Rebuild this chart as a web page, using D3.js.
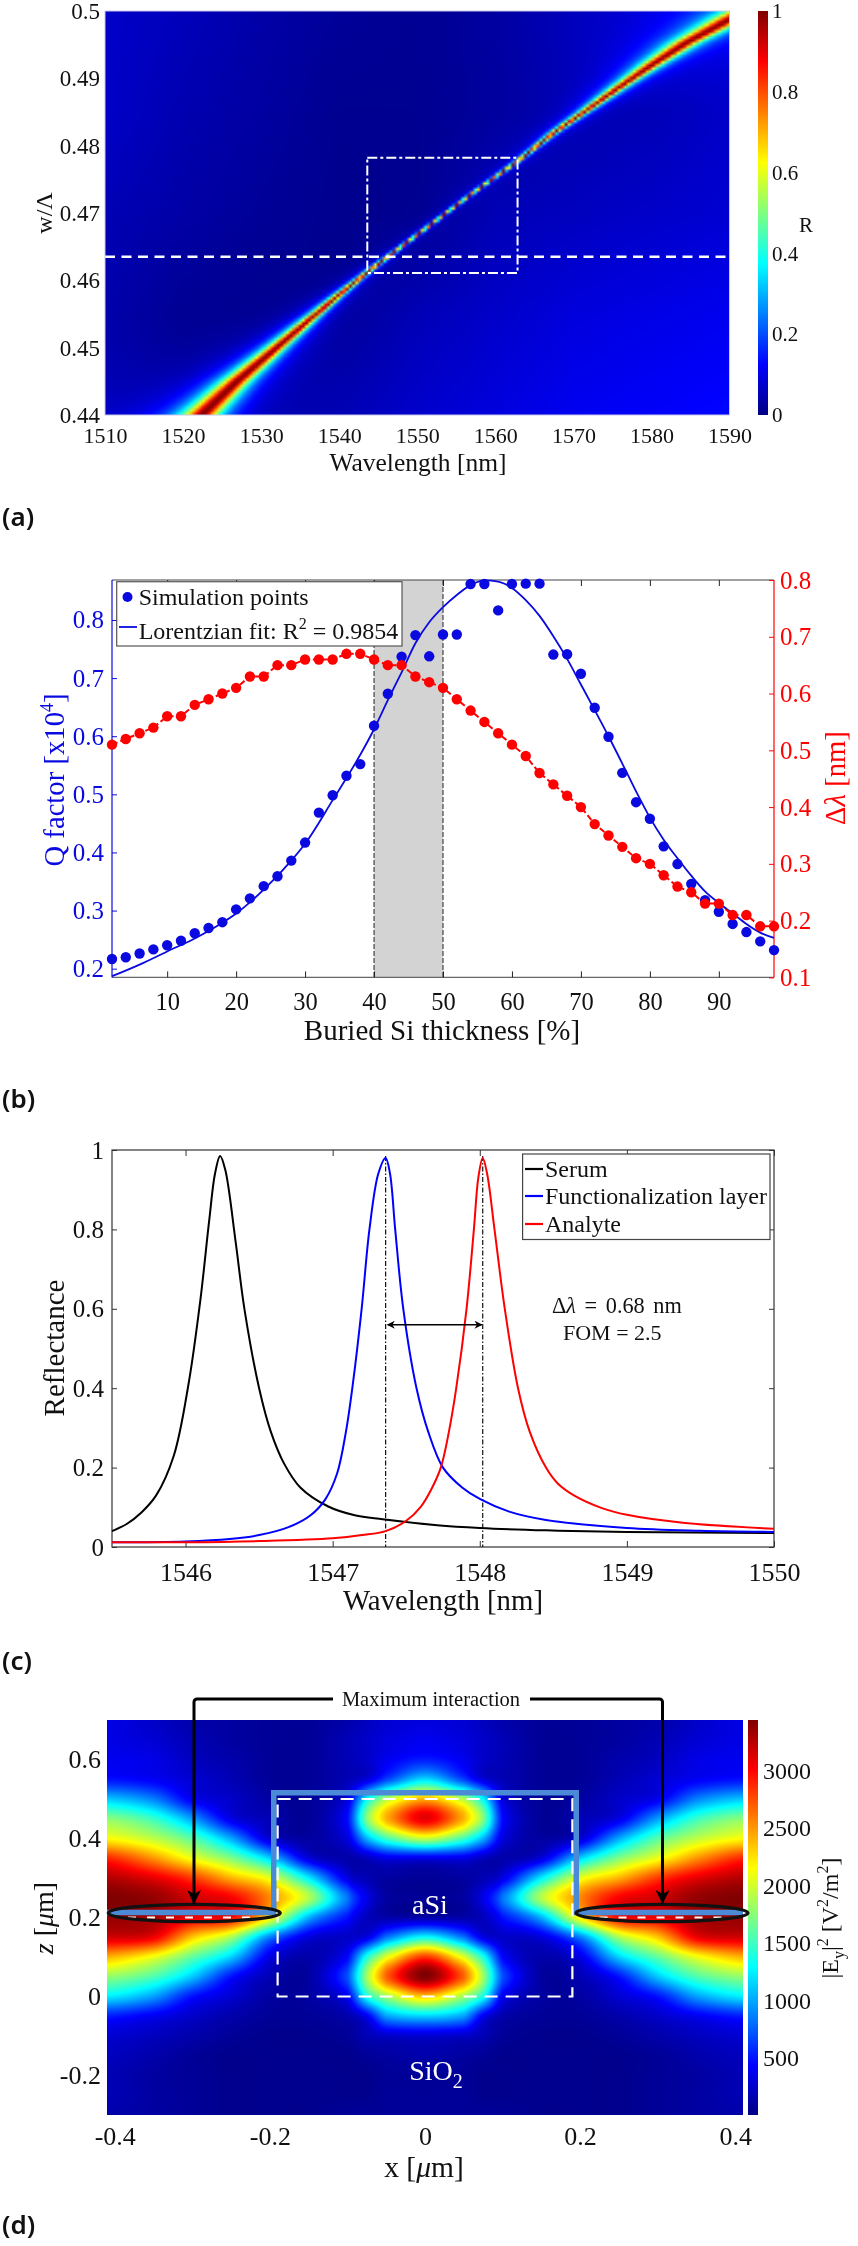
<!DOCTYPE html>
<html><head><meta charset="utf-8">
<script src="https://cdn.jsdelivr.net/npm/d3@7/dist/d3.min.js"></script>
<style>
html,body{margin:0;padding:0;background:#fff}
#root{position:relative;width:858px;height:2246px;overflow:hidden}
canvas{position:absolute;display:block;z-index:1}
svg{position:absolute;left:0;top:0;z-index:2}
svg text{font-family:"Liberation Serif",serif;fill:#111}
svg text.pl{font-family:"Noto Sans",sans-serif;font-weight:600;font-size:26px}
</style></head><body><div id="root"></div>
<script>
// ---------- Panel (a): reflectance map ----------
const aRidgeW = [0.44,0.44495,0.44916,0.45337,0.45757,0.46153,0.46376,0.4697,0.47342,0.47762,0.48188,0.4853,0.48879,0.49213,0.49532,0.49881,0.5];
const aRidgeL = [1522.39,1526.87,1531.14,1535.4,1539.68,1543.95,1546.51,1553.34,1557.62,1562.74,1567.4,1571.7,1575.98,1580.2,1584.5,1590.07,1592.2];
const aWidthW = [0.44,0.445,0.45,0.455,0.46,0.465,0.47,0.475,0.48,0.485,0.49,0.495,0.5];
const aWidthHW = [1.95,1.5,1.05,0.66,0.36,0.2,0.17,0.19,0.3,0.5,0.85,1.35,1.85];
const aBgL = [1510,1520,1530,1540,1550,1560,1570,1580,1590];
const aBgW = [0.5,0.485,0.47,0.455,0.44];
const aBg = [
 [.07,.055,.035,.02,.012,.025,.05,.07,.09],
 [.07,.045,.03,.012,.012,.025,.04,.05,.07],
 [.05,.035,.02,.01,.012,.05,.06,.07,.08],
 [.04,.015,.008,.01,.05,.07,.09,.10,.11],
 [.04,.015,.012,.04,.07,.09,.11,.12,.13]];
const aXTicks=[1510,1520,1530,1540,1550,1560,1570,1580,1590];
const aYTicks=[0.44,0.45,0.46,0.47,0.48,0.49,0.5];
const aCbTicks=[0,0.2,0.4,0.6,0.8,1];
const aDashedW=0.4635;
const aBox={l0:1543.6,l1:1562.85,w0:0.4611,w1:0.4782};

// ---------- Panel (b): Q factor and shift ----------
const bX=[2,4,6,8,10,12,14,16,18,20,22,24,26,28,30,32,34,36,38,40,42,44,46,48,50,52,54,56,58,60,62,64,66,68,70,72,74,76,78,80,82,84,86,88,90,92,94,96,98];
const bQ=[.2166,.2196,.2261,.2332,.2403,.248,.261,.27,.28,.302,.321,.342,.359,.386,.417,.4685,.4985,.532,.552,.618,.673,.737,.774,.7375,.775,.775,.862,.862,.8165,.862,.8625,.8625,.7405,.741,.7075,.649,.599,.537,.4865,.458,.4105,.38,.346,.318,.298,.277,.263,.247,.232];
const bShift=[.51,.52,.53,.54,.56,.56,.58,.59,.60,.61,.63,.63,.65,.65,.66,.66,.66,.67,.67,.66,.65,.65,.63,.62,.61,.59,.57,.55,.53,.51,.49,.46,.44,.42,.40,.37,.35,.33,.31,.30,.28,.26,.25,.23,.23,.21,.21,.19,.19];
const bFitX=[2,6,10,14,18,20,24,28,30,34,38,40,42,44,46,48,50,52,54,56,58,60,62,64,66,68,70,72,74,76,78,80,82,84,86,88,90,92,94,96,98];
const bFitQ=[.187,.207,.2296,.252,.279,.295,.336,.386,.415,.49,.568,.612,.662,.71,.76,.796,.822,.843,.860,.868,.866,.855,.834,.807,.772,.733,.689,.645,.6,.553,.505,.46,.422,.39,.36,.333,.313,.295,.277,.262,.253];
const bXTicks=[10,20,30,40,50,60,70,80,90];
const bLTicks=[.2,.3,.4,.5,.6,.7,.8];
const bRTicks=[.1,.2,.3,.4,.5,.6,.7,.8];
const bBand=[40,50];

// ---------- Panel (c): reflectance spectra ----------
const cSerumX=[1545.5,1545.6,1545.7,1545.8,1545.92,1546.02,1546.1,1546.16,1546.2,1546.235,1546.27,1546.34,1546.4,1546.5,1546.58,1546.67,1546.78,1546.97,1547.15,1547.34,1547.71,1548,1548.45,1549,1550];
const cSerumY=[.04,.058,.087,.13,.23,.41,.62,.82,.94,.985,.95,.77,.6,.4,.29,.21,.15,.102,.08,.07,.055,.048,.042,.038,.035];
const cFuncX=[1545.5,1546,1546.3,1546.5,1546.7,1546.85,1546.95,1547.03,1547.09,1547.137,1547.197,1547.25,1547.31,1547.36,1547.39,1547.425,1547.48,1547.57,1547.65,1547.75,1547.88,1548,1548.2,1548.45,1549,1549.5,1550];
const cFuncY=[.012,.014,.02,.03,.05,.08,.12,.185,.29,.41,.6,.8,.94,.98,.94,.8,.6,.4,.29,.2,.15,.121,.089,.068,.048,.041,.038];
const cAnaX=[1545.5,1546,1546.5,1547,1547.2,1547.36,1547.5,1547.6,1547.67,1547.735,1547.79,1547.84,1547.91,1547.96,1547.99,1548.02,1548.05,1548.1,1548.17,1548.26,1548.34,1548.45,1548.53,1548.64,1548.83,1549,1549.38,1550];
const cAnaY=[.012,.012,.015,.022,.03,.04,.066,.102,.145,.2,.29,.4,.6,.8,.93,.98,.94,.8,.6,.4,.29,.2,.16,.13,.098,.081,.061,.046];
const cNames=["Serum","Functionalization layer","Analyte"];
const cColors=["#000","#0000ff","#ff0000"];
const cXTicks=[1546,1547,1548,1549,1550];
const cYTicks=[0,.2,.4,.6,.8,1];
const cMarks=[1547.36,1548.02];

// ---------- Panel (d): field map (percent of the colour range, mirror-symmetric in x) ----------
const dFieldX=[0,.05,.075,.1,.15,.2,.25,.3,.35,.41];
const dFieldZ=[.7,.65,.6,.55,.5,.45,.4,.35,.3,.25,.2,.15,.1,.05,0,-.05,-.1,-.15,-.2,-.25,-.3];
const dRow00=[9,8,6,4,2,2,3,4,7,10];
const dRow01=[11,9,7,5,2,2,3,5,8,10];
const dRow02=[15,11,7,5,2,2,4,6,10,11];
const dRow03=[34,19,9,5,2,2,5,8,11.5,14];
const dRow04=[70,55,37,9,2,3,7,11,25,32];
const dRow05=[90,70,50,13,2,5,10,28,43,51];
const dRow06=[57,44,30,9,3,8,29,46,56,62.5];
const dRow07=[10,10,6,4,9,33,50,61,73,84];
const dRow08=[2,3,5,10,36,60,70,82,90,95];
const dRow09=[2,3,10,24,55,74,88,92,98,100];
const dRow10=[4,4,6,14,30,64,87,89,96,98];
const dRow11=[38,24,10,7,9,25,54,68,89,92];
const dRow12=[82,60,40,12.5,4,10,33,47,61,70];
const dRow13=[100,78,53,20,3,5,14,32,45,52];
const dRow14=[68,53,39,11,3,3,8,14,28,36];
const dRow15=[33,28,11,4,2,2,4,7,11,15];
const dRow16=[8,7,5,2,1,1,2,4,6,8];
const dRow17=[4,3,2,1,1,1,1,2,4,6];
const dRow18=[2,2,1,1,1,1,1,2,3,5];
const dRow19=[2,2,1,1,1,1,1,2,3,5];
const dRow20=[2,2,2,2,1,1,1,2,3,4];
const dXTicks=[-.4,-.2,0,.2,.4];
const dYTicks=[-.2,0,.2,.4,.6];
const dCbTicks=[500,1000,1500,2000,2500,3000];

// ---------- shared ----------
const root=d3.select("#root");
const svg=root.append("svg").attr("width",858).attr("height",2246);
const jetStops=[0,.125,.375,.625,.875,1];
const jetCols=["#000084","#0000ff","#00ffff","#ffff00","#ff0000","#800000"];
const jet=d3.scaleLinear().domain(jetStops).range(jetCols).clamp(true);
const defs=svg.append("defs");
function cbGrad(id){
  const g=defs.append("linearGradient").attr("id",id).attr("x1",0).attr("y1",1).attr("x2",0).attr("y2",0);
  jetStops.forEach((s,i)=>g.append("stop").attr("offset",s).attr("stop-color",jetCols[i]));
}
cbGrad("jetA");cbGrad("jetD");
function rich(sel,parts){
  parts.forEach(p=>{
    if(typeof p==="string"){sel.append("tspan").text(p);return;}
    const t=sel.append("tspan").text(p.t);
    if(p.i)t.attr("font-style","italic");
    if(p.s)t.attr("font-size",p.s);
    if(p.dy)t.attr("dy",p.dy);
  });
  return sel;
}
function label(x,y,size,anchor,fill,rot){
  const t=svg.append("text").attr("font-size",size).attr("text-anchor",anchor||"middle");
  if(fill)t.style("fill",fill);
  if(rot)t.attr("transform",`translate(${x},${y}) rotate(${rot})`);else t.attr("x",x).attr("y",y);
  return t;
}
function styleTicks(g,size,fill){
  g.selectAll("text").attr("font-size",size).style("fill",fill||"#111").style("font-family",'"Liberation Serif",serif');
  g.selectAll(".domain").remove();
}
[["(a)",2,526],["(b)",2,1108],["(c)",2,1670],["(d)",2,2234]].forEach(d=>svg.append("text").attr("class","pl").attr("x",d[1]).attr("y",d[2]).text(d[0]));

// ---------- Panel (a) ----------
(function(){
  const L=105,R=729.5,T=11,B=415;
  const x=d3.scaleLinear().domain([1510,1590]).range([L,R]);
  const y=d3.scaleLinear().domain([.44,.5]).range([B,T]);
  const ridge=d3.scaleLinear().domain(aRidgeW).range(aRidgeL);
  const hw=d3.scaleLinear().domain(aWidthW).range(aWidthHW);
  const nx=200,ny=130;
  const c=root.append("canvas").attr("width",nx).attr("height",ny)
    .style("left",L+"px").style("top",T+"px").style("width",(R-L)+"px").style("height",(B-T)+"px");
  const ctx=c.node().getContext("2d");const img=ctx.createImageData(nx,ny);
  const bgX=d3.scaleLinear().domain([1510,1590]).range([0,aBgL.length-1]);
  const bgY=d3.scaleLinear().domain([.5,.44]).range([0,aBgW.length-1]);
  for(let j=0;j<ny;j++){
    const w=y.invert(T+(j+.5)/ny*(B-T));
    const lam0=ridge(w),g=hw(w);
    for(let i=0;i<nx;i++){
      const l=x.invert(L+(i+.5)/nx*(R-L));
      const fx=bgX(l),fy=bgY(w);
      const i0=Math.min(Math.floor(fx),aBgL.length-2),j0=Math.min(Math.floor(fy),aBgW.length-2);
      const tx=fx-i0,ty=fy-j0;
      const b=(aBg[j0][i0]*(1-tx)+aBg[j0][i0+1]*tx)*(1-ty)+(aBg[j0+1][i0]*(1-tx)+aBg[j0+1][i0+1]*tx)*ty;
      const d=l-lam0;const gg=d<0?g*1.2:g*.95;
      const v=b*(1-1/(1+d*d/(gg*gg)))+1/(1+d*d/(gg*gg));
      const col=d3.rgb(jet(v));const k=(j*nx+i)*4;
      img.data[k]=col.r;img.data[k+1]=col.g;img.data[k+2]=col.b;img.data[k+3]=255;
    }
  }
  ctx.putImageData(img,0,0);
  const ax=svg.append("g").attr("transform",`translate(0,${B})`).call(d3.axisBottom(x).tickValues(aXTicks).tickFormat(d3.format("d")).tickSize(0).tickPadding(12));
  styleTicks(ax,22);
  const ay=svg.append("g").attr("transform",`translate(${L-5},0)`).call(d3.axisLeft(y).tickValues(aYTicks).tickFormat(d=>d3.format(".2~f")(d)).tickSize(0).tickPadding(0));
  styleTicks(ay,23);
  label(418,471,25.5).text("Wavelength [nm]");
  rich(label(52,213,24,"middle",null,-90),["w/Λ"]);
  svg.append("line").attr("x1",L).attr("x2",R-2).attr("y1",y(aDashedW)).attr("y2",y(aDashedW)).attr("stroke","#fff").attr("stroke-width",2.4).attr("stroke-dasharray","10 6.5");
  svg.append("rect").attr("x",x(aBox.l0)).attr("y",y(aBox.w1)).attr("width",x(aBox.l1)-x(aBox.l0)).attr("height",y(aBox.w0)-y(aBox.w1))
    .attr("fill","none").attr("stroke","#fff").attr("stroke-width",2).attr("stroke-dasharray","10 3 3 3");
  const cy=d3.scaleLinear().domain([0,1]).range([B,T]);
  svg.append("rect").attr("x",758).attr("y",T).attr("width",10).attr("height",B-T).attr("fill","url(#jetA)");
  const cb=svg.append("g").attr("transform","translate(768,0)").call(d3.axisRight(cy).tickValues(aCbTicks).tickFormat(d3.format("~g")).tickSize(0).tickPadding(4));
  styleTicks(cb,21);
  label(806,232,21).text("R");
  svg.append("rect").attr("x",L).attr("y",T).attr("width",R-L).attr("height",B-T).attr("fill","none").attr("stroke","#c8c8ea").attr("stroke-width",1);
})();

// ---------- Panel (b) ----------
(function(){
  const L=112,R=774,T=580,B=977.4;
  const x=d3.scaleLinear().domain([2,98]).range([L,R]);
  const yL=d3.scaleLinear().domain([.185,.8688]).range([B,T]);
  const yR=d3.scaleLinear().domain([.1,.8]).range([B,T]);
  const blue="#0a0ae0",red="#ff0000";
  svg.append("rect").attr("x",x(bBand[0])).attr("y",T).attr("width",x(bBand[1])-x(bBand[0])).attr("height",B-T).attr("fill","#d3d3d3");
  bBand.forEach(v=>svg.append("line").attr("x1",x(v)).attr("x2",x(v)).attr("y1",T).attr("y2",B).attr("stroke","#222").attr("stroke-width",1).attr("stroke-dasharray","5 2"));
  svg.append("line").attr("x1",L).attr("x2",R).attr("y1",T).attr("y2",T).attr("stroke","#444").attr("stroke-width",1.2);
  svg.append("line").attr("x1",L).attr("x2",R).attr("y1",B).attr("y2",B).attr("stroke","#666").attr("stroke-width",1.2);
  svg.append("line").attr("x1",L).attr("x2",L).attr("y1",T).attr("y2",B).attr("stroke",blue).attr("stroke-width",1.2);
  svg.append("line").attr("x1",R).attr("x2",R).attr("y1",T).attr("y2",B).attr("stroke",red).attr("stroke-width",1.2);
  const ab=svg.append("g").attr("transform",`translate(0,${B})`).call(d3.axisBottom(x).tickValues(bXTicks).tickFormat(d3.format("d")).tickSizeInner(-6).tickPadding(15));
  styleTicks(ab,24.5);ab.selectAll("line").attr("stroke","#222");
  const at=svg.append("g").attr("transform",`translate(0,${T})`).call(d3.axisTop(x).tickValues(bXTicks).tickFormat("").tickSizeInner(-6));
  at.selectAll(".domain").remove();at.selectAll("line").attr("stroke","#222");
  const al=svg.append("g").attr("transform",`translate(${L},0)`).call(d3.axisLeft(yL).tickValues(bLTicks).tickFormat(d3.format(".1f")).tickSizeInner(-5).tickPadding(8));
  styleTicks(al,25,blue);al.selectAll("line").attr("stroke",blue);
  const ar=svg.append("g").attr("transform",`translate(${R},0)`).call(d3.axisRight(yR).tickValues(bRTicks).tickFormat(d3.format(".1f")).tickSizeInner(-5).tickPadding(6));
  styleTicks(ar,25,red);ar.selectAll("line").attr("stroke",red);
  const fit=d3.line().x((d,i)=>x(bFitX[i])).y(d=>yL(d)).curve(d3.curveMonotoneX);
  svg.append("path").attr("d",fit(bFitQ)).attr("fill","none").attr("stroke",blue).attr("stroke-width",1.8);
  svg.append("g").selectAll("circle").data(bQ).join("circle").attr("cx",(d,i)=>x(bX[i])).attr("cy",d=>yL(d)).attr("r",5.2).attr("fill",blue);
  const sh=d3.line().x((d,i)=>x(bX[i])).y(d=>yR(d));
  svg.append("path").attr("d",sh(bShift)).attr("fill","none").attr("stroke",red).attr("stroke-width",2).attr("stroke-dasharray","6 3");
  svg.append("g").selectAll("circle").data(bShift).join("circle").attr("cx",(d,i)=>x(bX[i])).attr("cy",d=>yR(d)).attr("r",5.2).attr("fill",red);
  svg.append("rect").attr("x",116.7).attr("y",581.7).attr("width",285.3).attr("height",64.3).attr("fill","#fff").attr("stroke","#555").attr("stroke-width",1.2);
  svg.append("circle").attr("cx",127.5).attr("cy",597).attr("r",5).attr("fill",blue);
  svg.append("line").attr("x1",119).attr("x2",137).attr("y1",627).attr("y2",627).attr("stroke",blue).attr("stroke-width",1.8);
  label(138.7,605,24,"start").text("Simulation points");
  rich(label(138.7,639,24,"start"),["Lorentzian fit: R",{t:"2",s:16,dy:-10},{t:" = 0.9854",dy:10}]);
  label(442,1040,29).text("Buried Si thickness [%]");
  rich(label(64,780,28.7,"middle",blue,-90),["Q factor [x10",{t:"4",s:18,dy:-11},{t:"]",dy:11}]);
  rich(label(845,778,28.7,"middle",red,-90),["Δ",{t:"λ",i:1}," [nm]"]);
})();

// ---------- Panel (c) ----------
(function(){
  const L=112,R=774,T=1150,B=1547;
  const x=d3.scaleLinear().domain([1545.5,1550]).range([L,R]);
  const y=d3.scaleLinear().domain([0,1]).range([B,T]);
  svg.append("rect").attr("x",L).attr("y",T).attr("width",R-L).attr("height",B-T).attr("fill","none").attr("stroke","#333").attr("stroke-width",1.2);
  const ab=svg.append("g").attr("transform",`translate(0,${B})`).call(d3.axisBottom(x).tickValues(cXTicks).tickFormat(d3.format("d")).tickSizeInner(-6).tickPadding(16));
  styleTicks(ab,26);ab.selectAll("line").attr("stroke","#333");
  const at=svg.append("g").attr("transform",`translate(0,${T})`).call(d3.axisTop(x).tickValues(cXTicks).tickFormat("").tickSizeInner(-6));
  at.selectAll(".domain").remove();at.selectAll("line").attr("stroke","#333");
  const al=svg.append("g").attr("transform",`translate(${L},0)`).call(d3.axisLeft(y).tickValues(cYTicks).tickFormat(d3.format("~g")).tickSizeInner(-5).tickPadding(8));
  styleTicks(al,25);al.selectAll("line").attr("stroke","#333");
  const ar=svg.append("g").attr("transform",`translate(${R},0)`).call(d3.axisRight(y).tickValues(cYTicks).tickFormat("").tickSizeInner(-5));
  ar.selectAll(".domain").remove();ar.selectAll("line").attr("stroke","#333");
  const series=[[cSerumX,cSerumY],[cFuncX,cFuncY],[cAnaX,cAnaY]];
  cMarks.forEach(v=>svg.append("line").attr("x1",x(v)).attr("x2",x(v)).attr("y1",y(.985)).attr("y2",B).attr("stroke","#111").attr("stroke-width",1.2).attr("stroke-dasharray","5 2 1.5 2"));
  series.forEach((s,k)=>{
    const ln=d3.line().x((d,i)=>x(s[0][i])).y(d=>y(d)).curve(d3.curveCatmullRom.alpha(.5));
    svg.append("path").attr("d",ln(s[1])).attr("fill","none").attr("stroke",cColors[k]).attr("stroke-width",2);
  });
  const mk=defs.append("marker").attr("id","arrC").attr("viewBox","0 0 10 10").attr("refX",9).attr("refY",5).attr("markerWidth",10).attr("markerHeight",8).attr("orient","auto-start-reverse").attr("markerUnits","userSpaceOnUse");
  mk.append("path").attr("d","M0,0 L10,5 L0,10 L3,5 Z").attr("fill","#000");
  svg.append("line").attr("x1",x(cMarks[0])+2).attr("x2",x(cMarks[1])-1).attr("y1",y(.56)).attr("y2",y(.56)).attr("stroke","#000").attr("stroke-width",1.5).attr("marker-start","url(#arrC)").attr("marker-end","url(#arrC)");
  svg.append("rect").attr("x",522.6).attr("y",1154).attr("width",247.4).attr("height",85.5).attr("fill","#fff").attr("stroke","#444").attr("stroke-width",1.2);
  [1169,1196,1224].forEach((ly,i)=>{
    svg.append("line").attr("x1",525).attr("x2",543).attr("y1",ly).attr("y2",ly).attr("stroke",cColors[i]).attr("stroke-width",2.2);
    label(545,ly+8,24,"start").text(cNames[i]);
  });
  rich(label(552,1313,22.3,"start").attr("word-spacing",3),["Δ",{t:"λ",i:1}," = 0.68 nm"]);
  label(563,1340,22,"start").text("FOM = 2.5");
  label(443,1610,28.8).text("Wavelength [nm]");
  label(64,1348,29,"middle",null,-90).text("Reflectance");
})();

// ---------- Panel (d) ----------
(function(){
  const L=107,R=743,T=1720,B=2115;
  const x=d3.scaleLinear().domain([-.41,.41]).range([L,R]);
  const y=d3.scaleLinear().domain([-.3,.7]).range([B,T]);
  const rows=[dRow00,dRow01,dRow02,dRow03,dRow04,dRow05,dRow06,dRow07,dRow08,dRow09,dRow10,dRow11,dRow12,dRow13,dRow14,dRow15,dRow16,dRow17,dRow18,dRow19,dRow20];
  const ix=d3.scaleLinear().domain(dFieldX).range(d3.range(dFieldX.length)).clamp(true);
  const iz=d3.scaleLinear().domain(dFieldZ).range(d3.range(dFieldZ.length)).clamp(true);
  const nx=R-L,ny=B-T;
  const c=root.append("canvas").attr("width",nx).attr("height",ny).style("left",L+"px").style("top",T+"px");
  const ctx=c.node().getContext("2d");const img=ctx.createImageData(nx,ny);
  const cr=(p0,p1,p2,p3,t)=>.5*((2*p1)+(-p0+p2)*t+(2*p0-5*p1+4*p2-p3)*t*t+(-p0+3*p1-3*p2+p3)*t*t*t);
  const at=(r,q)=>rows[Math.max(0,Math.min(rows.length-1,r))][Math.max(0,Math.min(dFieldX.length-1,q))];
  for(let j=0;j<ny;j++){
    const fz=iz(y.invert(T+j+.5));const r0=Math.min(Math.floor(fz),rows.length-2),tz=fz-r0;
    for(let i=0;i<nx;i++){
      const xv=Math.abs(x.invert(L+i+.5));
      const fx=ix(xv);const q0=Math.min(Math.floor(fx),dFieldX.length-2),tx=fx-q0;
      const m=q=>q<0?-q:q;
      const colv=[-1,0,1,2].map(dr=>cr(at(r0+dr,m(q0-1)),at(r0+dr,q0),at(r0+dr,q0+1),at(r0+dr,q0+2),tx));
      const v=cr(colv[0],colv[1],colv[2],colv[3],tz);
      const col=d3.rgb(jet(Math.max(0,v)/100));const k=(j*nx+i)*4;
      img.data[k]=col.r;img.data[k+1]=col.g;img.data[k+2]=col.b;img.data[k+3]=255;
    }
  }
  ctx.putImageData(img,0,0);
  const ax=svg.append("g").attr("transform",`translate(0,${B})`).call(d3.axisBottom(x).tickValues(dXTicks).tickFormat(d=>d<0?"-"+Math.abs(d):d).tickSize(0).tickPadding(12));
  styleTicks(ax,26);
  const ay=svg.append("g").attr("transform",`translate(${L-6},0)`).call(d3.axisLeft(y).tickValues(dYTicks).tickFormat(d=>d<0?"-"+Math.abs(d):d).tickSize(0).tickPadding(0));
  styleTicks(ay,26);
  const cs=d3.scaleLinear().domain([6,3442]).range([B,T]);
  svg.append("rect").attr("x",748).attr("y",T).attr("width",10).attr("height",B-T).attr("fill","url(#jetD)");
  const cb=svg.append("g").attr("transform","translate(758,0)").call(d3.axisRight(cs).tickValues(dCbTicks).tickFormat(d3.format("d")).tickSize(0).tickPadding(5));
  styleTicks(cb,24);
  rich(label(838,1918,24,"middle",null,-90),["|E",{t:"y",s:16,dy:6},{t:"|",dy:-6},{t:"2",s:16,dy:-10},{t:" [V",dy:10},{t:"2",s:16,dy:-10},{t:"/m",dy:10},{t:"2",s:16,dy:-10},{t:"]",dy:10}]);
  const ol=d3.line().x(d=>x(d[0])).y(d=>y(d[1]));
  svg.append("path").attr("d",ol([[-.41,.2127],[-.195,.2127],[-.195,.516],[.195,.516],[.195,.2127],[.41,.2127]])).attr("fill","none").attr("stroke","#4a8ad6").attr("stroke-width",5.5);
  const dash=d3.line().x(d=>x(d[0])).y(d=>y(d[1]));
  svg.append("path").attr("d",dash([[-.19,.5],[.19,.5],[.19,0],[-.19,0],[-.19,.5]])).attr("fill","none").attr("stroke","#fff").attr("stroke-width",2.2).attr("stroke-dasharray","13 8");
  [[-.383,-.225],[.225,.383]].forEach(s=>svg.append("line").attr("x1",x(s[0])).attr("x2",x(s[1])).attr("y1",y(.2)).attr("y2",y(.2)).attr("stroke","#fff").attr("stroke-width",2.2).attr("stroke-dasharray","8 11"));
  [-.2975,.3055].forEach(cx=>svg.append("ellipse").attr("cx",x(cx)).attr("cy",1913).attr("rx",86).attr("ry",8.7).attr("fill","none").attr("stroke","#111").attr("stroke-width",3.2));
  const mk=defs.append("marker").attr("id","arrD").attr("viewBox","0 0 14 14").attr("refX",14).attr("refY",7).attr("markerWidth",14).attr("markerHeight",14).attr("orient","auto").attr("markerUnits","userSpaceOnUse");
  mk.append("path").attr("d","M0,0 L14,7 L0,14 L4,7 Z").attr("fill","#000");
  const yTop=1699,yTip=1904;
  svg.append("path").attr("d",`M333,${yTop}H197a3,3 0 0 0 -3,3V${yTip}`).attr("fill","none").attr("stroke","#000").attr("stroke-width",3).attr("marker-end","url(#arrD)");
  svg.append("path").attr("d",`M530,${yTop}H659.5a3,3 0 0 1 3,3V${yTip}`).attr("fill","none").attr("stroke","#000").attr("stroke-width",3).attr("marker-end","url(#arrD)");
  label(431,1706,20.5).text("Maximum interaction");
  label(430,1914,28).style("fill","#fff").text("aSi");
  rich(label(436,2080,28).style("fill","#fff"),["SiO",{t:"2",s:20,dy:8}]);
  rich(label(424,2177,29.5),["x [",{t:"μ",i:1},"m]"]);
  rich(label(53,1918,28,"middle",null,-90),[{t:"z",i:1}," [",{t:"μ",i:1},"m]"]);
})();
</script></body></html>
